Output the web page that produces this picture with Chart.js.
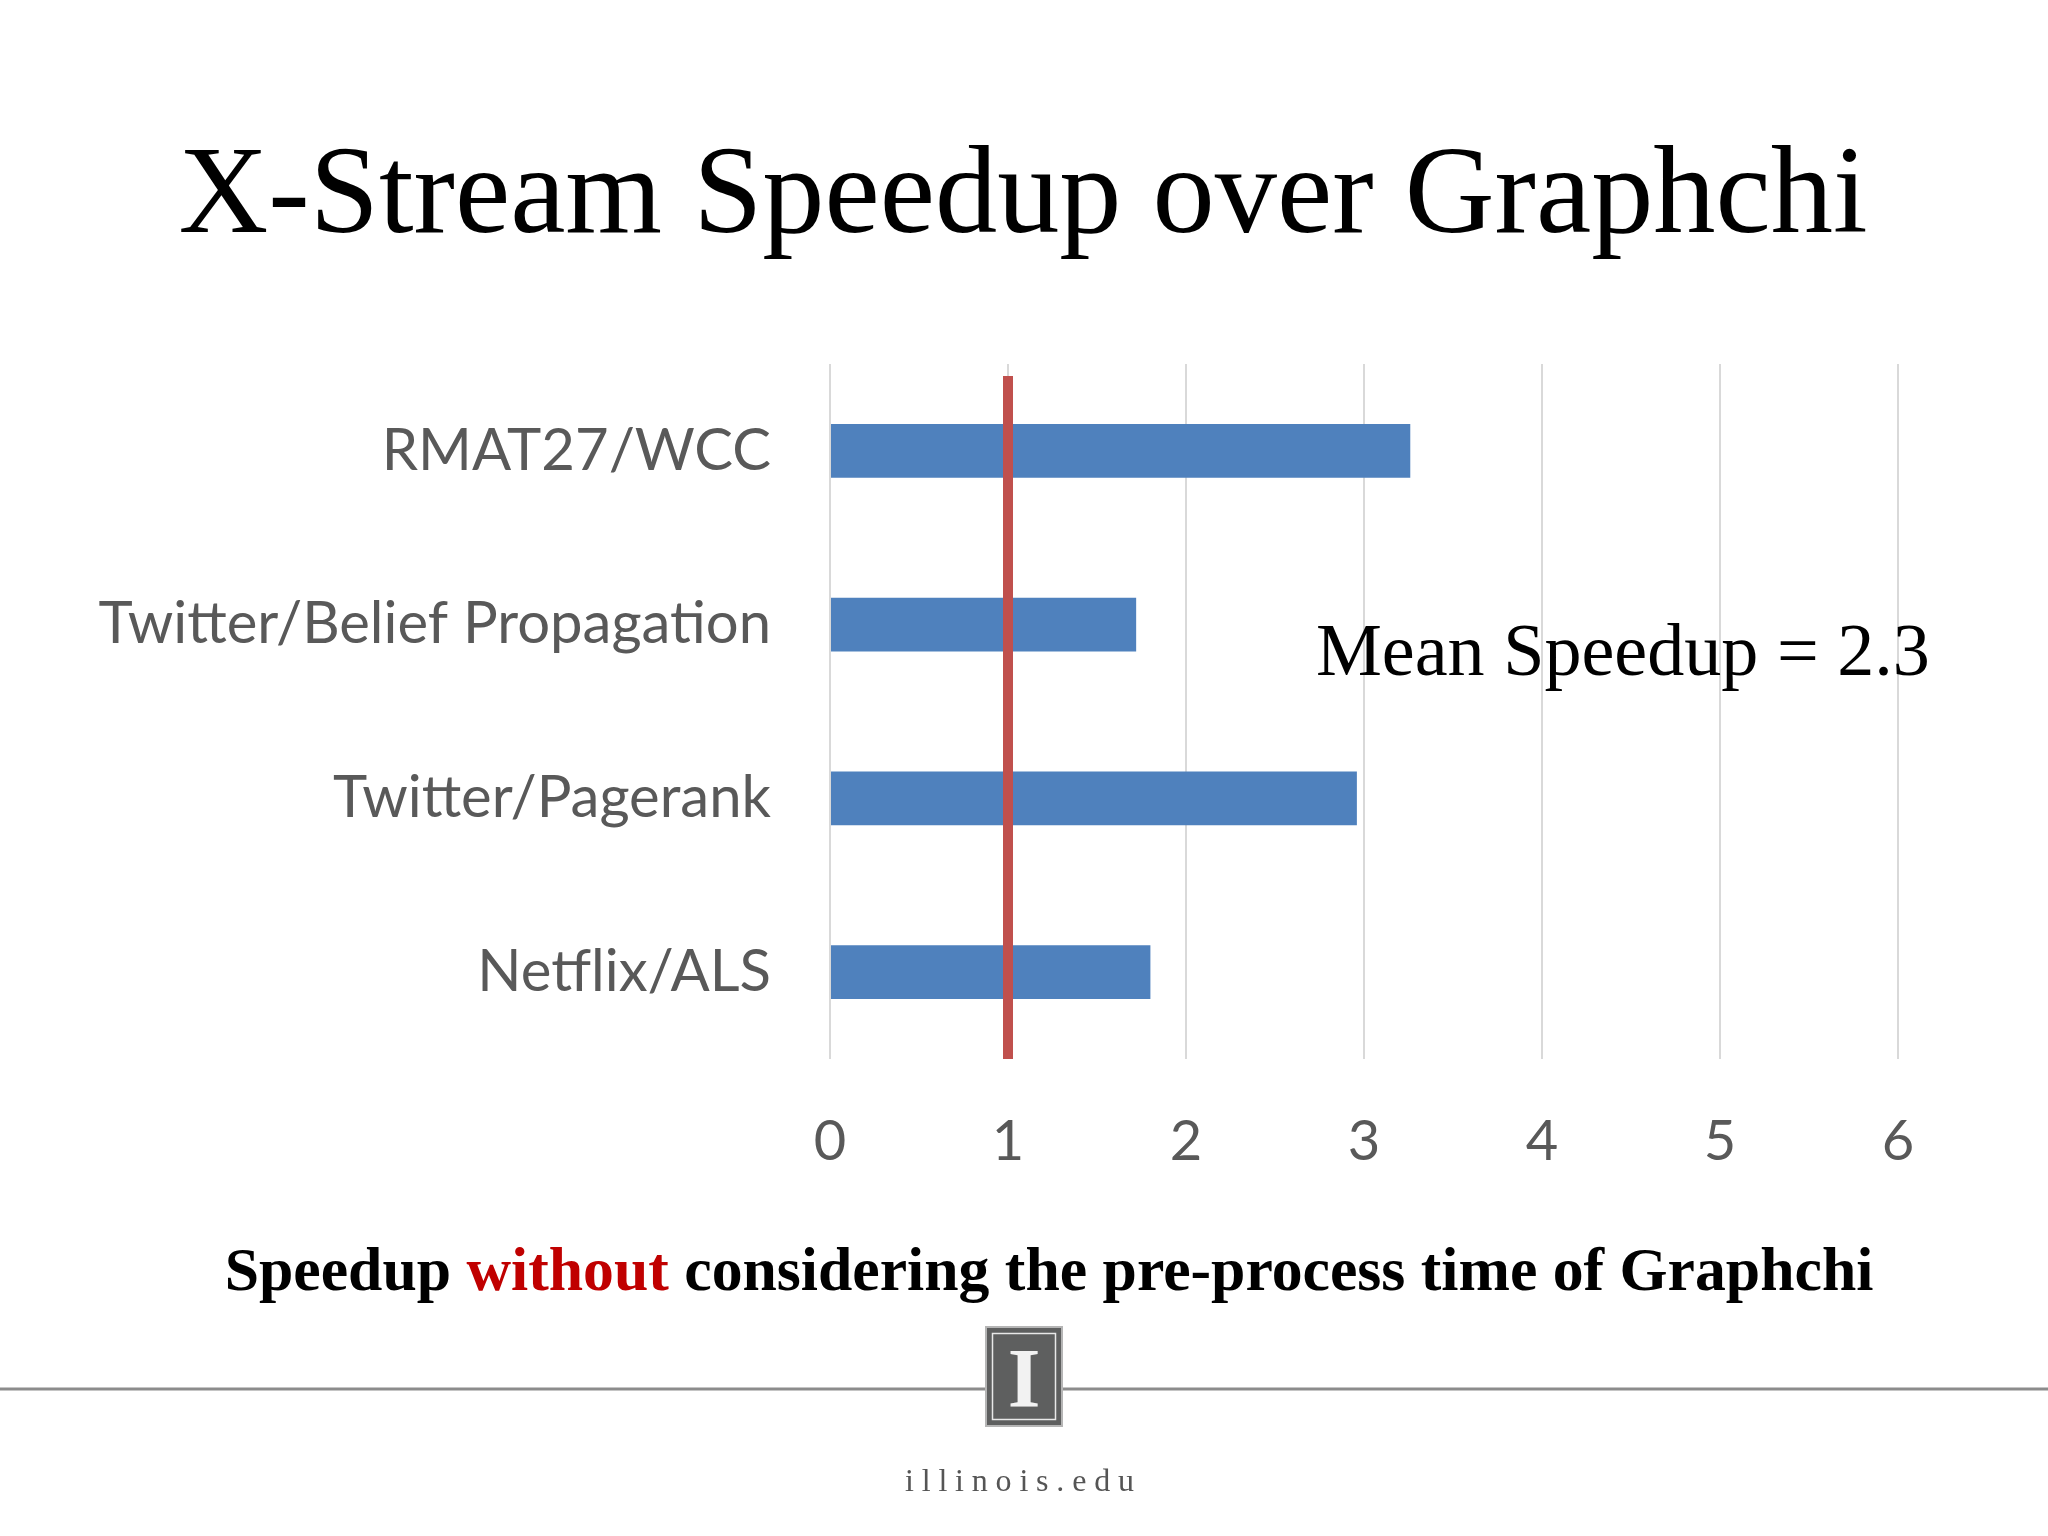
<!DOCTYPE html>
<html>
<head>
<meta charset="utf-8">
<title>X-Stream Speedup over Graphchi</title>
<script src="https://cdn.jsdelivr.net/npm/chart.js@4.4.1/dist/chart.umd.min.js"></script>
<style>
  html, body { margin: 0; padding: 0; background: #fff; }
  #chart { display: block; }
</style>
</head>
<body>
<canvas id="chart" width="2048" height="1536"></canvas>
<script>
// data
const categories = ['RMAT27/WCC', 'Twitter/Belief Propagation', 'Twitter/Pagerank', 'Netflix/ALS'];
const speedups = [3.26, 1.72, 2.96, 1.80];
const xTicks = [0, 1, 2, 3, 4, 5, 6];
const baselineSpeedup = 1;
const meanSpeedup = 2.3;

const titleText = 'X-Stream Speedup over Graphchi';
const footerParts = [
  { text: 'Speedup ', color: '#000000' },
  { text: 'without', color: '#c00000' },
  { text: ' considering the pre-process time of Graphchi', color: '#000000' },
];

const barBlue = '#4f81bd';
const refRed = '#c0504d';
const labelGrey = '#595959';
const gridGrey = '#d9d9d9';
const serif = '"Liberation Serif", "Times New Roman", serif';
const sans = 'Lato, "Open Sans", sans-serif';

// fit a string to a target width, return font size
function fitSize(ctx, text, weight, target){
  ctx.font = `${weight} 100px ${serif}`;
  return 100 * target / ctx.measureText(text).width;
}

// slide decoration: title, annotation, footer, logo
const slidePlugin = {
  id: 'slide',
  afterDraw(chart){
    const ctx = chart.ctx;
    const xs = chart.scales.x;
    ctx.save();
    ctx.textBaseline = 'alphabetic';

    // title
    let size = fitSize(ctx, titleText, 'normal', 1689);
    ctx.font = `normal ${size}px ${serif}`;
    ctx.fillStyle = '#000';
    ctx.textAlign = 'center';
    ctx.fillText(titleText, 1023, 232);

    // mean annotation
    const meanText = `Mean Speedup = ${meanSpeedup}`;
    size = fitSize(ctx, meanText, 'normal', 614);
    ctx.font = `normal ${size}px ${serif}`;
    ctx.textAlign = 'left';
    ctx.fillText(meanText, xs.getPixelForValue(2.73), 675);

    // footer line with red word
    const full = footerParts.map(p => p.text).join('');
    size = fitSize(ctx, full, 'bold', 1649);
    ctx.font = `bold ${size}px ${serif}`;
    let x = 1049 - ctx.measureText(full).width / 2;
    footerParts.forEach(p => {
      ctx.fillStyle = p.color;
      ctx.fillText(p.text, x, 1290);
      x += ctx.measureText(p.text).width;
    });

    // rule across the page
    ctx.strokeStyle = '#8c8c8c';
    ctx.lineWidth = 3;
    ctx.beginPath();
    ctx.moveTo(0, 1389); ctx.lineTo(987, 1389);
    ctx.moveTo(1061, 1389); ctx.lineTo(2048, 1389);
    ctx.stroke();

    // logo box
    ctx.fillStyle = '#5e5f5f';
    ctx.fillRect(987, 1328, 74, 97);
    ctx.strokeStyle = '#b5b5b5';
    ctx.lineWidth = 2;
    ctx.strokeRect(986, 1327, 76, 99);
    ctx.strokeStyle = '#e8e8e8';
    ctx.lineWidth = 1.5;
    ctx.strokeRect(992.5, 1333.5, 63, 86);
    ctx.fillStyle = '#f2f2f2';
    ctx.font = `bold 84px ${serif}`;
    ctx.textAlign = 'center';
    ctx.fillText('I', 1024, 1407);

    // illinois.edu, spaced out
    const web = 'illinois.edu';
    ctx.font = `normal 32px ${serif}`;
    ctx.fillStyle = '#555';
    ctx.textAlign = 'left';
    const natural = ctx.measureText(web).width;
    const gap = (229 - natural) / (web.length - 1);
    let wx = 905;
    for (const ch of web){
      ctx.fillText(ch, wx, 1491);
      wx += ctx.measureText(ch).width + gap;
    }
    ctx.restore();
  },
  afterDatasetsDraw(chart){
    // reference line at speedup 1
    const ctx = chart.ctx;
    const a = chart.chartArea;
    const px = chart.scales.x.getPixelForValue(baselineSpeedup);
    ctx.save();
    ctx.strokeStyle = refRed;
    ctx.lineWidth = 10;
    ctx.beginPath();
    ctx.moveTo(px, a.top + 12);
    ctx.lineTo(px, a.bottom);
    ctx.stroke();
    ctx.restore();
  }
};

new Chart(document.getElementById('chart'), {
  type: 'bar',
  data: {
    labels: categories,
    datasets: [{
      data: speedups,
      backgroundColor: barBlue,
      borderWidth: 0,
      barPercentage: 0.616,
      categoryPercentage: 0.5,
    }]
  },
  options: {
    indexAxis: 'y',
    responsive: false,
    animation: false,
    devicePixelRatio: 1,
    layout: { padding: { left: 0, top: 364, right: 150, bottom: 367 } },
    plugins: { legend: { display: false }, tooltip: { enabled: false } },
    scales: {
      x: {
        min: xTicks[0],
        max: xTicks[xTicks.length - 1],
        afterBuildTicks: s => { s.ticks = xTicks.map(v => ({ value: v })); },
        afterFit: s => { s.height = 110; },
        ticks: { color: labelGrey, font: { family: sans, size: 56 }, padding: 49 },
        grid: { color: gridGrey, lineWidth: 2, drawTicks: false },
        border: { display: false },
      },
      y: {
        afterFit: s => { s.width = 830; },
        ticks: { color: labelGrey, font: { family: sans, size: 58 }, padding: 59 },
        grid: { display: false, drawTicks: false },
        border: { display: false },
      }
    }
  },
  plugins: [slidePlugin]
});
</script>
</body>
</html>
